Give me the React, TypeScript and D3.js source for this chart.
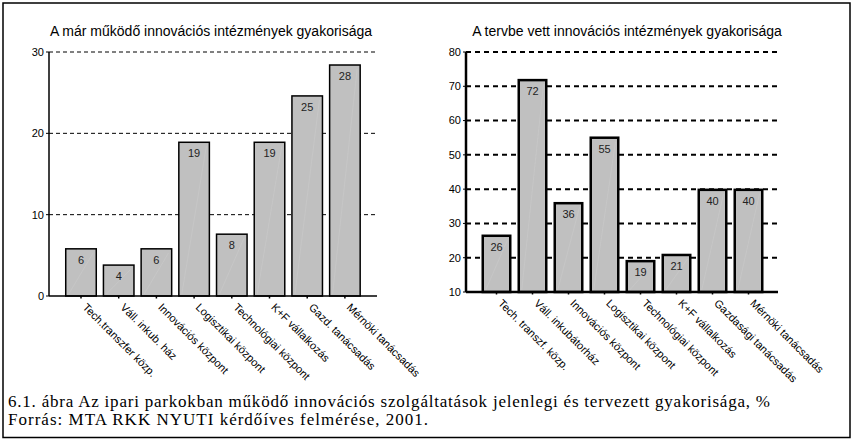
import React from "react";
import * as d3 from "d3";

const leftTitle = "A már működő innovációs intézmények gyakorisága";
const leftCategories = [
  "Tech.transzfer közp.",
  "Váll. inkub. ház",
  "Innovációs központ",
  "Logisztikai központ",
  "Technológiai központ",
  "K+F vállalkozás",
  "Gazd. tanácsadás",
  "Mérnöki tanácsadás",
];
const leftValues = [5.8, 3.8, 5.8, 18.9, 7.6, 18.9, 24.6, 28.4];
const leftTicks = [0, 10, 20, 30];

const rightTitle = "A tervbe vett innovációs intézmények gyakorisága";
const rightCategories = [
  "Tech. transzf. közp.",
  "Váll. inkubátorház",
  "Innovációs központ",
  "Logisztikai központ",
  "Technológiai központ",
  "K+F vállalkozás",
  "Gazdasági tanácsadás",
  "Mérnöki tanácsadás",
];
const rightValues = [26.4, 71.8, 35.9, 55, 19, 20.8, 39.8, 39.8];
const rightTicks = [10, 20, 30, 40, 50, 60, 70, 80];

const captionLines = [
  "6.1. ábra Az ipari parkokban működő innovációs szolgáltatások jelenlegi és tervezett gyakorisága, %",
  "Forrás: MTA RKK NYUTI kérdőíves felmérése, 2001.",
];
const captionWidths = [762, 420];

const SANS = "'Liberation Sans', Arial, sans-serif";
const SERIF = "'Liberation Serif', 'Times New Roman', serif";

type PanelProps = {
  title: string;
  titleX: number;
  categories: string[];
  values: number[];
  ticks: number[];
  domain: [number, number];
  axisX: number;
  axisRight: number;
  yTop: number;
  yBottom: number;
  bandStart: number;
  bandEnd: number;
  paddingInner: number;
  stroke: number;
  gridStroke: number;
  dash: string;
};

function Panel(p: PanelProps) {
  const y = d3.scaleLinear().domain(p.domain).range([p.yBottom, p.yTop]);
  const x = d3
    .scaleBand<string>()
    .domain(p.categories)
    .range([p.bandStart, p.bandEnd])
    .paddingInner(p.paddingInner)
    .paddingOuter(p.paddingInner / 2);
  const fmt = d3.format(".0f");
  const base = p.domain[0];
  return (
    <g>
      <text
        x={p.titleX}
        y={36}
        textAnchor="middle"
        fontFamily={SANS}
        fontSize={14}
        fill="#000"
      >
        {p.title}
      </text>
      {p.ticks
        .filter((t) => t !== base)
        .map((t) => (
          <line
            key={"g" + t}
            x1={p.axisX}
            x2={p.axisRight}
            y1={y(t)}
            y2={y(t)}
            stroke="#000"
            strokeWidth={p.gridStroke}
            strokeDasharray={p.dash}
          />
        ))}
      {p.ticks.map((t) => (
        <g key={"t" + t}>
          <line
            x1={p.axisX - 3}
            x2={p.axisX}
            y1={y(t)}
            y2={y(t)}
            stroke="#000"
            strokeWidth={1}
          />
          <text
            x={p.axisX - 5}
            y={y(t)}
            dy="0.35em"
            textAnchor="end"
            fontFamily={SANS}
            fontSize={11}
            fill="#000"
          >
            {t}
          </text>
        </g>
      ))}
      {p.categories.map((c, i) => {
        const bx = x(c)!;
        const top = y(p.values[i]);
        const bw = x.bandwidth();
        return (
          <g key={c}>
            <rect
              x={bx}
              y={top}
              width={bw}
              height={y(base) - top}
              fill="#c0c0c0"
              stroke="#000"
              strokeWidth={p.stroke}
            />
            <line
              x1={bx + 3}
              y1={y(base) - 2}
              x2={bx + bw * 0.9}
              y2={top + 4}
              stroke="#c9c9c9"
              strokeWidth={0.7}
            />
            <text
              x={bx + bw / 2}
              y={top + 15}
              textAnchor="middle"
              fontFamily={SANS}
              fontSize={11}
              fill="#222"
            >
              {fmt(p.values[i])}
            </text>
          </g>
        );
      })}
      <line
        x1={p.axisX}
        x2={p.axisX}
        y1={p.yTop}
        y2={p.yBottom}
        stroke="#000"
        strokeWidth={p.stroke}
      />
      <line
        x1={p.axisX}
        x2={p.axisRight}
        y1={p.yBottom}
        y2={p.yBottom}
        stroke="#000"
        strokeWidth={p.stroke}
      />
      {p.categories.map((c) => {
        const cx = x(c)! + x.bandwidth() / 2;
        return (
          <g key={"c" + c}>
            <line
              x1={cx}
              x2={cx}
              y1={p.yBottom}
              y2={p.yBottom + 2.5}
              stroke="#000"
              strokeWidth={1.5}
            />
            <text
              transform={`translate(${cx + 1},${p.yBottom + 12}) rotate(45)`}
              textAnchor="start"
              fontFamily={SANS}
              fontSize={11}
              fill="#000"
            >
              {c}
            </text>
          </g>
        );
      })}
    </g>
  );
}

export default function App() {
  return (
    <svg
      width={855}
      height={446}
      style={{ position: "absolute", left: 0, top: 0, background: "#fff" }}
    >
      <rect x={0} y={0} width={855} height={446} fill="#fff" />
      <rect
        x={3}
        y={3}
        width={847}
        height={434.5}
        fill="none"
        stroke="#000"
        strokeWidth={1.5}
      />
      <Panel
        title={leftTitle}
        titleX={211}
        categories={leftCategories}
        values={leftValues}
        ticks={leftTicks}
        domain={[0, 30]}
        axisX={49}
        axisRight={377}
        yTop={52}
        yBottom={296}
        bandStart={62.15}
        bandEnd={363.75}
        paddingInner={0.19}
        stroke={1.5}
        gridStroke={1}
        dash="4,3"
      />
      <Panel
        title={rightTitle}
        titleX={627}
        categories={rightCategories}
        values={rightValues}
        ticks={rightTicks}
        domain={[10, 80]}
        axisX={466}
        axisRight={778}
        yTop={52}
        yBottom={292}
        bandStart={478.5}
        bandEnd={766.5}
        paddingInner={0.236}
        stroke={2.5}
        gridStroke={2}
        dash="5,4"
      />
      {captionLines.map((l, i) => (
        <text
          key={i}
          x={8}
          y={407 + i * 18}
          fontFamily={SERIF}
          fontSize={17}
          textLength={captionWidths[i]}
          lengthAdjust="spacing"
          fill="#000"
        >
          {l}
        </text>
      ))}
    </svg>
  );
}
